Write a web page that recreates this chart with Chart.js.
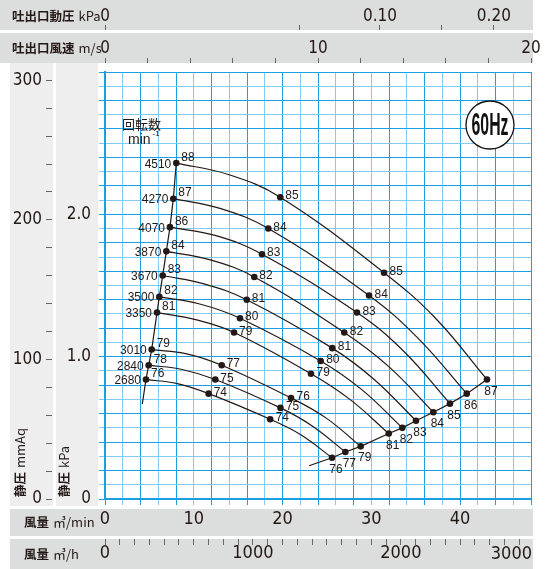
<!DOCTYPE html>
<html>
<head>
<meta charset="utf-8">
<script src="https://cdn.jsdelivr.net/npm/chart.js@4.4.1/dist/chart.umd.min.js"></script>
<style>
html, body { margin: 0; padding: 0; background: #fff; }
canvas { display: block; }
</style>
</head>
<body>
<canvas id="fanChart" width="547" height="569"></canvas>
<script>
// rpm of each curve (min-1)
const rpm = [4510, 4270, 4070, 3870, 3670, 3500, 3350, 3010, 2840, 2680];

// flow (m3/min) and static pressure (kPa) at the four marked points of each curve
const qStart = [8.03, 7.70, 7.32, 6.91, 6.50, 6.12, 5.86, 5.26, 4.92, 4.62];
const pStart = [2.36, 2.11, 1.91, 1.74, 1.57, 1.42, 1.31, 1.05, 0.94, 0.84];
const qMid1 = [19.75, 18.40, 17.69, 16.82, 15.97, 15.21, 14.54, 13.15, 12.43, 11.68];
const pMid1 = [2.12, 1.90, 1.72, 1.56, 1.40, 1.27, 1.17, 0.94, 0.84, 0.74];
const qMid2 = [31.44, 29.75, 28.39, 26.96, 25.61, 24.30, 23.21, 20.96, 19.77, 18.61];
const pMid2 = [1.59, 1.43, 1.31, 1.17, 1.06, 0.97, 0.88, 0.71, 0.64, 0.56];
const qEnd = [43.04, 40.76, 38.87, 36.99, 35.04, 33.50, 31.97, 28.81, 27.08, 25.58];
const pEnd = [0.84, 0.74, 0.67, 0.61, 0.55, 0.50, 0.46, 0.37, 0.33, 0.29];

// unmarked points (first and last stretch)
const qArcA = [13.89, 13.05, 12.51, 11.87, 11.24, 10.67, 10.20, 9.21, 8.68, 8.15];
const pArcA = [2.28, 2.04, 1.85, 1.68, 1.51, 1.37, 1.26, 1.02, 0.91, 0.81];
const qArcB = [37.24, 35.26, 33.63, 31.98, 30.33, 28.90, 27.59, 24.89, 23.43, 22.10];
const pArcB = [1.27, 1.13, 1.04, 0.93, 0.84, 0.77, 0.70, 0.57, 0.51, 0.45];

// noise values written next to the points (dB)
const dbStart = [88, 87, 86, 84, 83, 82, 81, 79, 78, 76];
const dbMid1 = [85, 84, 83, 82, 81, 80, 79, 77, 75, 74];
const dbMid2 = [85, 84, 83, 82, 81, 80, 79, 76, 75, 74];
const dbEnd = [87, 86, 85, 84, 83, 82, 81, 79, 77, 76];

// where the two limit lines run past the last curve
const startLineTail = [4.20, 0.667];
const endLineTail = [22.99, 0.234];

// axes
const flowMax = 48;            // m3/min
const pressMax = 3.0;          // kPa
const flowPerVelocity = 2.4;   // m3/min per 1 m/s outlet velocity
const airDensity = 1.2;
const flowLabels = [0, 10, 20, 30, 40];
const hourLabels = [0, 1000, 2000];
const velLabels = [0, 10, 20];
const pressLabels = [0, 1, 2];
const mmAqLabels = [0, 100, 200, 300];
const dynTicks = [0, 0.05, 0.10, 0.15, 0.20];
const dynLabels = ['0', '', '0.10', '', '0.20'];

const lineColor = '#231815';
const textColor = '#231815';
const gridDark = '#1a9fe2';
const gridLight = '#80cbf1';
const stripGray = '#dcdddd';
const sideGray = '#eeeeee';
const numFont = "'Liberation Sans Narrow', 'DejaVu Sans Condensed', 'Liberation Sans', sans-serif";
const plotFont = "'Liberation Sans', 'DejaVu Sans', sans-serif";
const jpFont = "'Noto Sans CJK JP', 'Noto Sans CJK SC', sans-serif";

// index of the marked points inside each curve's data
const MARKED = [0, 2, 3, 5];

function range(start, end, step) {
    const out = [];
    const n = Math.round((end - start) / step);
    for (let i = 0; i <= n; i++) out.push(Math.round((start + i * step) * 1000) / 1000);
    return out;
}

function hasLabel(list, v) {
    return list.some(l => Math.abs(l - v) < 1e-6);
}

function drawText(ctx, text, x, y, font, align, squeeze) {
    ctx.save();
    ctx.font = font;
    ctx.textAlign = align || 'left';
    ctx.textBaseline = 'middle';
    ctx.translate(x, y);
    ctx.scale(squeeze || 1, 1);
    ctx.fillText(text, 0, 0);
    ctx.restore();
}

// CJK part + latin unit in one row
function drawTitle(ctx, jp, unit, x, y) {
    ctx.save();
    ctx.fillStyle = textColor;
    ctx.textBaseline = 'middle';
    ctx.textAlign = 'left';
    ctx.font = 'bold 12.5px ' + jpFont;
    ctx.fillText(jp, x, y);
    const w = ctx.measureText(jp).width;
    ctx.font = '13px ' + jpFont;
    ctx.fillText(unit, x + w + 4, y);
    ctx.restore();
}

const datasets = [];
for (let i = 0; i < rpm.length; i++) {
    datasets.push({
        label: rpm[i] + ' min-1',
        data: [
            { x: qStart[i], y: pStart[i] },
            { x: qArcA[i], y: pArcA[i] },
            { x: qMid1[i], y: pMid1[i] },
            { x: qMid2[i], y: pMid2[i] },
            { x: qArcB[i], y: pArcB[i] },
            { x: qEnd[i], y: pEnd[i] }
        ],
        showLine: true,
        borderColor: lineColor,
        borderWidth: 1.2,
        tension: 0.4,
        pointRadius: c => MARKED.includes(c.dataIndex) ? 3.3 : 0,
        pointBorderWidth: 0,
        pointBackgroundColor: lineColor
    });
}
datasets.push({
    label: 'start',
    data: qStart.map((q, i) => ({ x: q, y: pStart[i] })).concat([{ x: startLineTail[0], y: startLineTail[1] }]),
    showLine: true, borderColor: lineColor, borderWidth: 1.2, tension: 0, pointRadius: 0
});
datasets.push({
    label: 'end',
    data: qEnd.map((q, i) => ({ x: q, y: pEnd[i] })).concat([{ x: endLineTail[0], y: endLineTail[1] }]),
    showLine: true, borderColor: lineColor, borderWidth: 1.2, tension: 0, pointRadius: 0
});

const xGrid = c => (c.tick && Math.round(c.tick.value) % 4 !== 0) ? gridLight : gridDark;
const yGrid = c => (c.tick && Math.round(c.tick.value * 10) % 2 !== 0) ? gridLight : gridDark;

const sheetPlugin = {
    id: 'sheet',
    beforeDraw(chart) {
        const ctx = chart.ctx;
        const area = chart.chartArea;
        ctx.save();
        ctx.fillStyle = '#fff';
        ctx.fillRect(0, 0, chart.width, chart.height);
        ctx.fillStyle = stripGray;
        ctx.fillRect(0, 0, area.right + 2, 30);
        ctx.fillRect(0, 33, area.right + 2, 30);
        ctx.fillRect(10, 509, area.right - 8, 27);
        ctx.fillRect(10, 539, area.right - 8, 30);
        ctx.fillStyle = sideGray;
        ctx.fillRect(10, 63, 43, 443);
        ctx.fillRect(56, 63, 42, 443);
        ctx.restore();
    },
    afterDatasetsDraw(chart) {
        const ctx = chart.ctx;
        ctx.save();
        ctx.fillStyle = textColor;
        const f = '13px ' + plotFont;
        for (let i = 0; i < rpm.length; i++) {
            const d = chart.getDatasetMeta(i).data;
            const pts = MARKED.map(k => d[k]);
            drawText(ctx, String(rpm[i]), pts[0].x - 5, pts[0].y + 1, f, 'right', 0.92);
            drawText(ctx, String(dbStart[i]), pts[0].x + 5, pts[0].y - 6, f, 'left', 0.92);
            drawText(ctx, String(dbMid1[i]), pts[1].x + 5, pts[1].y - 1.5, f, 'left', 0.92);
            drawText(ctx, String(dbMid2[i]), pts[2].x + 5.5, pts[2].y - 1.5, f, 'left', 0.92);
            drawText(ctx, String(dbEnd[i]), pts[3].x + 4, pts[3].y + 11.5, f, 'center', 0.92);
        }
        // rpm caption
        drawText(ctx, '回転数', 122, 124, '13px ' + jpFont, 'left');
        drawText(ctx, 'min', 128, 140, '14px ' + plotFont, 'left');
        drawText(ctx, '-1', 152.5, 134, '8px ' + plotFont, 'left');

        // 60Hz badge
        const cx = 490, cy = 125;
        ctx.beginPath();
        ctx.arc(cx, cy, 24, 0, Math.PI * 2);
        ctx.fillStyle = '#fff';
        ctx.fill();
        ctx.lineWidth = 1.3;
        ctx.strokeStyle = '#111';
        ctx.stroke();
        ctx.fillStyle = '#111';
        ctx.font = 'bold 32px ' + plotFont;
        const w = ctx.measureText('60Hz').width;
        drawText(ctx, '60Hz', cx, cy + 1, 'bold 32px ' + plotFont, 'center', 37 / w);
        ctx.restore();
    },
    afterDraw(chart) {
        const ctx = chart.ctx;
        const area = chart.chartArea;
        ctx.save();
        ctx.fillStyle = textColor;
        drawTitle(ctx, '吐出口動圧', 'kPa', 12, 16);
        drawTitle(ctx, '吐出口風速', 'm/s', 12, 48);
        drawTitle(ctx, '風量', '㎥/min', 24, 522);
        drawTitle(ctx, '風量', '㎥/h', 24, 554);
        // last m3/h label sits at the strip end
        drawText(ctx, '3000', area.right + 1, 554, '18px ' + numFont, 'right');
        // vertical titles
        [['静圧', 'mmAq', 20], ['静圧', 'kPa', 64]].forEach(t => {
            ctx.save();
            ctx.translate(t[2], 497);
            ctx.rotate(-Math.PI / 2);
            drawTitle(ctx, t[0], t[1], 0, 0);
            ctx.restore();
        });
        ctx.restore();
    }
};

const tickFont = { family: numFont, size: 18 };

new Chart(document.getElementById('fanChart'), {
    type: 'scatter',
    data: { datasets },
    plugins: [sheetPlugin],
    options: {
        responsive: false,
        animation: false,
        events: [],
        layout: { padding: { left: 0, right: 16, top: 0, bottom: 0 } },
        plugins: { legend: { display: false }, tooltip: { enabled: false } },
        scales: {
            x: {
                type: 'linear', position: 'bottom', weight: 0, min: 0, max: flowMax,
                afterBuildTicks: s => { s.ticks = range(0, flowMax, 2).map(v => ({ value: v })); },
                afterFit: s => { s.height = 40; s.paddingLeft = 0; s.paddingRight = 0; },
                ticks: {
                    autoSkip: false, maxRotation: 0, padding: 4, color: textColor, font: tickFont,
                    callback: v => hasLabel(flowLabels, v) ? String(v) : ''
                },
                grid: { color: xGrid, tickColor: xGrid, tickLength: 6, lineWidth: 1 },
                border: { color: gridDark, width: 2 }
            },
            flowHour: {
                type: 'linear', axis: 'x', position: 'bottom', weight: 1, min: 0, max: flowMax * 60,
                afterBuildTicks: s => { s.ticks = range(0, 2800, 100).map(v => ({ value: v })); },
                afterFit: s => { s.height = 30; s.paddingLeft = 0; s.paddingRight = 0; },
                ticks: {
                    autoSkip: false, maxRotation: 0, padding: -2, color: textColor, font: tickFont,
                    callback: v => hasLabel(hourLabels, v) ? String(v) : ''
                },
                grid: { drawOnChartArea: false, tickLength: 6, tickColor: '#666', color: '#666' },
                border: { display: false }
            },
            y: {
                type: 'linear', position: 'left', weight: 0, min: 0, max: pressMax,
                afterBuildTicks: s => { s.ticks = range(0, pressMax, 0.1).map(v => ({ value: v })); },
                afterFit: s => { s.width = 53; s.paddingTop = 0; s.paddingBottom = 0; },
                ticks: {
                    autoSkip: false, padding: 8, color: textColor, font: { family: numFont, size: 17 },
                    callback: v => hasLabel(pressLabels, v) ? (v === 0 ? '0' : v.toFixed(1)) : ''
                },
                grid: { color: yGrid, tickColor: yGrid, tickLength: 6, lineWidth: 1 },
                border: { color: gridDark, width: 2 }
            },
            mmAq: {
                type: 'linear', axis: 'y', position: 'left', weight: 1, min: 0, max: pressMax * 1000 / 9.80665,
                afterBuildTicks: s => { s.ticks = range(0, 300, 20).map(v => ({ value: v })); },
                afterFit: s => { s.width = 52; s.paddingTop = 0; s.paddingBottom = 0; },
                ticks: {
                    autoSkip: false, padding: 4, color: textColor, font: { family: numFont, size: 17 },
                    callback: v => hasLabel(mmAqLabels, v) ? String(v) : ''
                },
                grid: { drawOnChartArea: false, tickLength: 6, tickColor: '#666', color: '#666' },
                border: { display: false }
            },
            gapA: {
                type: 'linear', axis: 'x', position: 'top', weight: 0,
                ticks: { display: false }, grid: { display: false }, border: { display: false },
                afterFit: s => { s.height = 9; s.paddingLeft = 0; s.paddingRight = 0; }
            },
            vel: {
                type: 'linear', axis: 'x', position: 'top', weight: 1, min: 0, max: flowMax / flowPerVelocity,
                afterBuildTicks: s => { s.ticks = range(0, flowMax / flowPerVelocity, 2).map(v => ({ value: v })); },
                afterFit: s => { s.height = 30; s.paddingLeft = 0; s.paddingRight = 0; },
                ticks: {
                    autoSkip: false, maxRotation: 0, padding: -1, color: textColor, font: { family: numFont, size: 17 },
                    callback: v => hasLabel(velLabels, v) ? String(v) : ''
                },
                grid: { drawOnChartArea: false, tickLength: 5, tickColor: '#666', color: '#666' },
                border: { display: false }
            },
            gapB: {
                type: 'linear', axis: 'x', position: 'top', weight: 2,
                ticks: { display: false }, grid: { display: false }, border: { display: false },
                afterFit: s => { s.height = 3; s.paddingLeft = 0; s.paddingRight = 0; }
            },
            dyn: {
                type: 'linear', axis: 'x', position: 'top', weight: 3, min: 0, max: flowMax / flowPerVelocity,
                afterBuildTicks: s => {
                    s.ticks = dynTicks.map(p => ({ value: Math.sqrt(2 * p * 1000 / airDensity) }));
                },
                afterFit: s => { s.height = 30; s.paddingLeft = 0; s.paddingRight = 0; },
                ticks: {
                    autoSkip: false, maxRotation: 0, padding: -2, color: textColor, font: { family: numFont, size: 17 },
                    callback: (v, i) => dynLabels[i]
                },
                grid: { drawOnChartArea: false, tickLength: 5, tickColor: '#666', color: '#666' },
                border: { display: false }
            }
        }
    }
});
</script>
</body>
</html>
